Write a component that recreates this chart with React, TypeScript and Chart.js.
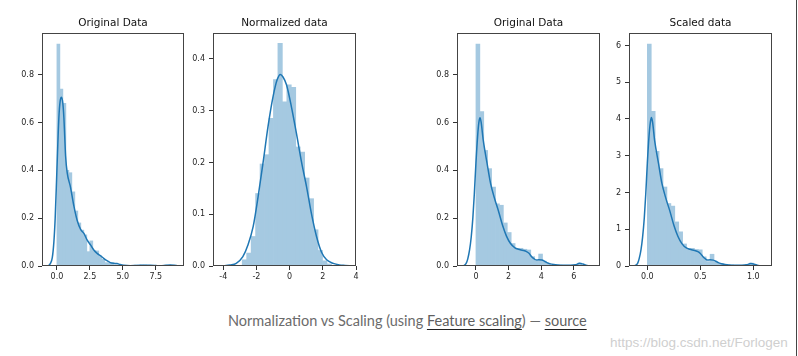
import React, { useEffect, useRef } from 'react';
import { Chart, registerables } from 'chart.js';

Chart.register(...registerables);

// ---------------- DATA ----------------
// Panel 1: Original Data (left pair)
const P1_TITLE = 'Original Data';
const P1_BIN_START = 0;
const P1_BIN_WIDTH = 0.227;
const P1_BINS = [
  0.928, 0.74, 0.68, 0.4, 0.39, 0.31, 0.23, 0.18, 0.15, 0.13,
  0.06, 0.105, 0.064, 0.063, 0.04, 0.028, 0.014, 0.013, 0.013, 0.005,
  0.003, 0.002, 0, 0, 0, 0, 0.004, 0.004, 0.004, 0.004,
  0.002, 0, 0, 0, 0, 0, 0.004, 0.004, 0.002,
];
const P1_KDE_X = [
  -0.75, -0.6, -0.48, -0.35, -0.23, -0.13, 0, 0.15, 0.25, 0.35, 0.45, 0.53, 0.66, 0.78,
  1.03, 1.29, 1.54, 1.8, 2.05, 2.3, 2.55, 2.8, 3.05, 3.3, 3.55, 3.8, 4.05, 4.3, 4.56,
  4.8, 5.06, 5.57, 6.0, 6.33, 7.1, 7.5, 7.84, 8.3, 8.6, 8.9, 9.2, 9.5,
];
const P1_KDE_Y = [
  0, 0.003, 0.012, 0.035, 0.1, 0.2, 0.4, 0.62, 0.69, 0.705, 0.68, 0.62, 0.46, 0.39,
  0.33, 0.25, 0.19, 0.153, 0.136, 0.108, 0.088, 0.067, 0.053, 0.043, 0.032, 0.022, 0.014, 0.011, 0.01,
  0.006, 0.003, 0.001, 0.002, 0.003, 0.003, 0.002, 0.001, 0.003, 0.004, 0.003, 0.001, 0,
];
const P1_XTICKS = [0, 2.5, 5, 7.5];
const P1_YTICKS = [0, 0.2, 0.4, 0.6, 0.8];

// Panel 2: Normalized data
const P2_TITLE = 'Normalized data';
const P2_BIN_START = -2.86;
const P2_BIN_WIDTH = 0.269;
const P2_BINS = [
  0.012, 0.025, 0.057, 0.14, 0.197, 0.215, 0.285, 0.36, 0.43, 0.317,
  0.35, 0.345, 0.23, 0.22, 0.17, 0.13, 0.07, 0.03, 0.01, 0.004,
];
const P2_KDE_X = [
  -4.1, -3.93, -3.6, -3.22, -2.82, -2.52, -2.2, -1.9, -1.6, -1.3, -1.0, -0.75, -0.56,
  -0.4, -0.19, 0.11, 0.41, 0.72, 1.02, 1.32, 1.62, 1.93, 2.23, 2.63, 3.0, 3.34, 3.74,
];
const P2_KDE_Y = [
  0, 0.0005, 0.002, 0.005, 0.018, 0.04, 0.076, 0.134, 0.2, 0.27, 0.327, 0.36, 0.37,
  0.365, 0.35, 0.307, 0.256, 0.2, 0.153, 0.1, 0.057, 0.026, 0.012, 0.005, 0.002, 0.001, 0,
];
const P2_XTICKS = [-4, -2, 0, 2, 4];
const P2_YTICKS = [0, 0.1, 0.2, 0.3, 0.4];

// Panel 3: Original Data (right pair)
const P3_TITLE = 'Original Data';
const P3_BIN_START = 0;
const P3_BIN_WIDTH = 0.24;
const P3_BINS = [
  0.928, 0.646, 0.483, 0.407, 0.33, 0.26, 0.254, 0.18, 0.14, 0.094,
  0.074, 0.074, 0.07, 0.067, 0.039, 0.02, 0.05, 0.02, 0.011, 0.004,
  0.004, 0.004, 0.003, 0.003, 0.003, 0.006, 0.012,
];
const P3_KDE_X = [
  -0.85, -0.74, -0.6, -0.5, -0.39, -0.29, -0.19, -0.1, 0, 0.1, 0.18, 0.25, 0.32, 0.45,
  0.68, 0.9, 1.15, 1.38, 1.63, 1.87, 2.12, 2.39, 2.6, 2.9, 3.1, 3.25, 3.4, 3.55, 3.7,
  3.85, 4.04, 4.2, 4.35, 4.55, 4.76, 5.0, 5.4, 5.8, 6.1, 6.35, 6.55, 6.8, 7.1,
];
const P3_KDE_Y = [
  0, 0.002, 0.011, 0.03, 0.067, 0.12, 0.2, 0.3, 0.43, 0.54, 0.6, 0.62, 0.6, 0.525,
  0.43, 0.344, 0.28, 0.23, 0.17, 0.125, 0.094, 0.076, 0.07, 0.065, 0.06, 0.053, 0.04, 0.031, 0.025,
  0.026, 0.025, 0.02, 0.014, 0.009, 0.006, 0.004, 0.003, 0.003, 0.005, 0.011, 0.008, 0.002, 0,
];
const P3_XTICKS = [0, 2, 4, 6];
const P3_YTICKS = [0, 0.2, 0.4, 0.6, 0.8];

// Panel 4: Scaled data
const P4_TITLE = 'Scaled data';
const P4_BIN_START = 0;
const P4_BIN_WIDTH = 0.037;
const P4_BINS = [
  6.04, 4.21, 3.12, 2.65, 2.15, 1.7, 1.63, 1.2, 0.93, 0.6,
  0.48, 0.48, 0.45, 0.44, 0.25, 0.12, 0.32, 0.12, 0.07, 0.03,
  0.03, 0.03, 0.02, 0.02, 0.02, 0.04, 0.08,
];
const P4_KDE_X = [
  -0.131, -0.114, -0.092, -0.077, -0.06, -0.045, -0.029, -0.015, 0, 0.015, 0.028, 0.038, 0.049, 0.069,
  0.105, 0.138, 0.177, 0.212, 0.251, 0.288, 0.326, 0.368, 0.4, 0.446, 0.477, 0.5, 0.523, 0.546, 0.569,
  0.592, 0.622, 0.646, 0.669, 0.7, 0.732, 0.769, 0.831, 0.892, 0.938, 0.977, 1.008, 1.046, 1.092,
];
const P4_KDE_Y = [
  0, 0.013, 0.07, 0.2, 0.44, 0.78, 1.3, 1.95, 2.8, 3.5, 3.9, 4.04, 3.92, 3.41,
  2.8, 2.24, 1.82, 1.5, 1.1, 0.81, 0.61, 0.49, 0.455, 0.42, 0.39, 0.34, 0.26, 0.2, 0.16,
  0.17, 0.16, 0.13, 0.09, 0.06, 0.04, 0.026, 0.02, 0.02, 0.033, 0.07, 0.05, 0.013, 0,
];
const P4_XTICKS = [0, 0.5, 1.0];
const P4_YTICKS = [0, 1, 2, 3, 4, 5, 6];

const CAPTION_BEFORE = 'Normalization vs Scaling (using ';
const CAPTION_LINK1 = 'Feature scaling';
const CAPTION_MID = ') — ';
const CAPTION_LINK2 = 'source';
const WATERMARK = 'https://blog.csdn.net/Forlogen';

// ---------------- LAYOUT / STYLE ----------------
const Y_AXIS_W = 42;
const X_AXIS_H = 24;
const TOP_PAD = 33;
const TITLE_Y = 23;
const RIGHT_PAD = 8;
const CANVAS_H = 290;
const BAR_COLOR = 'rgb(165,201,225)';
const LINE_COLOR = '#1f77b4';
const FONT = "'DejaVu Sans', sans-serif";

type PanelSpec = {
  title: string;
  binStart: number;
  binWidth: number;
  bins: number[];
  kdeX: number[];
  kdeY: number[];
  xTicks: number[];
  yTicks: number[];
  xDec: number;
  yDec: number;
  xMin: number;
  xMax: number;
  yMax: number;
  plotLeft: number;
  plotWidth: number;
};

const PANELS: PanelSpec[] = [
  {
    title: P1_TITLE, binStart: P1_BIN_START, binWidth: P1_BIN_WIDTH, bins: P1_BINS,
    kdeX: P1_KDE_X, kdeY: P1_KDE_Y, xTicks: P1_XTICKS, yTicks: P1_YTICKS, xDec: 1, yDec: 1,
    xMin: -1.13, xMax: 9.64, yMax: 0.974, plotLeft: 42, plotWidth: 142,
  },
  {
    title: P2_TITLE, binStart: P2_BIN_START, binWidth: P2_BIN_WIDTH, bins: P2_BINS,
    kdeX: P2_KDE_X, kdeY: P2_KDE_Y, xTicks: P2_XTICKS, yTicks: P2_YTICKS, xDec: 0, yDec: 1,
    xMin: -4.62, xMax: 4.0, yMax: 0.45, plotLeft: 213, plotWidth: 143,
  },
  {
    title: P3_TITLE, binStart: P3_BIN_START, binWidth: P3_BIN_WIDTH, bins: P3_BINS,
    kdeX: P3_KDE_X, kdeY: P3_KDE_Y, xTicks: P3_XTICKS, yTicks: P3_YTICKS, xDec: 0, yDec: 1,
    xMin: -1.16, xMax: 7.6, yMax: 0.974, plotLeft: 457, plotWidth: 143,
  },
  {
    title: P4_TITLE, binStart: P4_BIN_START, binWidth: P4_BIN_WIDTH, bins: P4_BINS,
    kdeX: P4_KDE_X, kdeY: P4_KDE_Y, xTicks: P4_XTICKS, yTicks: P4_YTICKS, xDec: 1, yDec: 0,
    xMin: -0.173, xMax: 1.176, yMax: 6.34, plotLeft: 629, plotWidth: 143,
  },
];

const boxPlugin = {
  id: 'frameBox',
  afterDatasetsDraw(chart: any) {
    const { ctx, chartArea: a } = chart;
    ctx.save();
    ctx.strokeStyle = '#444';
    ctx.lineWidth = 1;
    const l = Math.round(a.left) + 0.5;
    const t = Math.round(a.top) + 0.5;
    const r = Math.round(a.right) - 0.5;
    const b = Math.round(a.bottom) - 0.5;
    ctx.strokeRect(l, t, r - l, b - t);
    ctx.restore();
  },
};

const centeredTitlePlugin = {
  id: 'centeredTitle',
  afterDraw(chart: any) {
    const text = chart.options.plugins?.centeredTitle?.text;
    if (!text) return;
    const { ctx, chartArea: a } = chart;
    ctx.save();
    ctx.fillStyle = '#111';
    ctx.font = `10.5px ${FONT}`;
    ctx.textAlign = 'center';
    ctx.textBaseline = 'middle';
    ctx.fillText(text, (a.left + a.right) / 2, TITLE_Y);
    ctx.restore();
  },
};

function Panel({ spec }: { spec: PanelSpec }) {
  const ref = useRef<HTMLCanvasElement>(null);
  const width = Y_AXIS_W + spec.plotWidth + RIGHT_PAD;

  useEffect(() => {
    if (!ref.current) return;
    const barData = spec.bins.map((h, i) => ({ x: spec.binStart + (i + 0.5) * spec.binWidth, y: h }));
    const kdeData = spec.kdeX.map((x, i) => ({ x, y: spec.kdeY[i] }));
    const tickGrid = {
      display: true,
      drawOnChartArea: false,
      drawTicks: true,
      tickLength: 4,
      color: '#333',
      lineWidth: 1,
    };
    const chart = new Chart(ref.current, {
      type: 'bar',
      data: {
        datasets: [
          {
            type: 'line',
            data: kdeData,
            borderColor: LINE_COLOR,
            borderWidth: 1.5,
            pointRadius: 0,
            cubicInterpolationMode: 'monotone',
            fill: false,
            order: 1,
          } as any,
          {
            type: 'bar',
            data: barData,
            backgroundColor: BAR_COLOR,
            borderWidth: 0,
            barPercentage: 1,
            categoryPercentage: 1,
            order: 2,
          } as any,
        ],
      },
      options: {
        animation: false,
        responsive: false,
        maintainAspectRatio: false,
        layout: { padding: { left: 0, right: RIGHT_PAD, top: TOP_PAD, bottom: 0 } },
        plugins: {
          legend: { display: false },
          tooltip: { enabled: false },
          title: { display: false },
          centeredTitle: { text: spec.title },
        },
        scales: {
          x: {
            type: 'linear',
            min: spec.xMin,
            max: spec.xMax,
            offset: false,
            grid: { ...tickGrid, offset: false },
            border: { display: false },
            afterBuildTicks: (axis: any) => {
              axis.ticks = spec.xTicks.map((v) => ({ value: v }));
            },
            afterFit: (axis: any) => {
              axis.height = X_AXIS_H;
            },
            ticks: {
              autoSkip: false,
              maxRotation: 0,
              padding: 2,
              color: '#262626',
              font: { family: FONT, size: 8 },
              callback: (v: any) => Number(v).toFixed(spec.xDec),
            },
          },
          y: {
            type: 'linear',
            min: 0,
            max: spec.yMax,
            grid: tickGrid,
            border: { display: false },
            afterBuildTicks: (axis: any) => {
              axis.ticks = spec.yTicks.map((v) => ({ value: v }));
            },
            afterFit: (axis: any) => {
              axis.width = Y_AXIS_W;
            },
            ticks: {
              autoSkip: false,
              padding: 4,
              color: '#262626',
              font: { family: FONT, size: 8 },
              callback: (v: any) => Number(v).toFixed(spec.yDec),
            },
          },
        },
      } as any,
      plugins: [boxPlugin, centeredTitlePlugin],
    });
    return () => chart.destroy();
  }, [spec]);

  return (
    <div style={{ position: 'absolute', left: spec.plotLeft - Y_AXIS_W, top: 0, width, height: CANVAS_H }}>
      <canvas ref={ref} width={width} height={CANVAS_H} style={{ display: 'block' }} />
    </div>
  );
}

export default function App() {
  const link: React.CSSProperties = {
    textDecoration: 'underline',
    textDecorationColor: '#222',
    textUnderlineOffset: '3px',
    color: '#5f5f5f',
  };
  return (
    <div
      style={{
        position: 'fixed',
        left: 0,
        top: 0,
        width: 798,
        height: 356,
        background: '#fff',
        overflow: 'hidden',
      }}
    >
      {PANELS.map((p, i) => (
        <Panel key={i} spec={p} />
      ))}
      <div
        style={{
          position: 'absolute',
          left: 228,
          top: 312,
          fontFamily: "Lato, 'Noto Sans', sans-serif",
          fontSize: 14.5,
          lineHeight: '18px',
          color: '#6b6b6b',
          whiteSpace: 'nowrap',
        }}
      >
        {CAPTION_BEFORE}
        <span style={link}>{CAPTION_LINK1}</span>
        {CAPTION_MID}
        <span style={link}>{CAPTION_LINK2}</span>
      </div>
      <div
        style={{
          position: 'absolute',
          left: 610,
          top: 335,
          fontFamily: "'Liberation Sans', Arial, sans-serif",
          fontSize: 13.5,
          lineHeight: '16px',
          color: '#cfcfcf',
          whiteSpace: 'nowrap',
        }}
      >
        {WATERMARK}
      </div>
      <div style={{ position: 'absolute', left: 796, top: 0, width: 1, height: 356, background: '#444' }} />
    </div>
  );
}
